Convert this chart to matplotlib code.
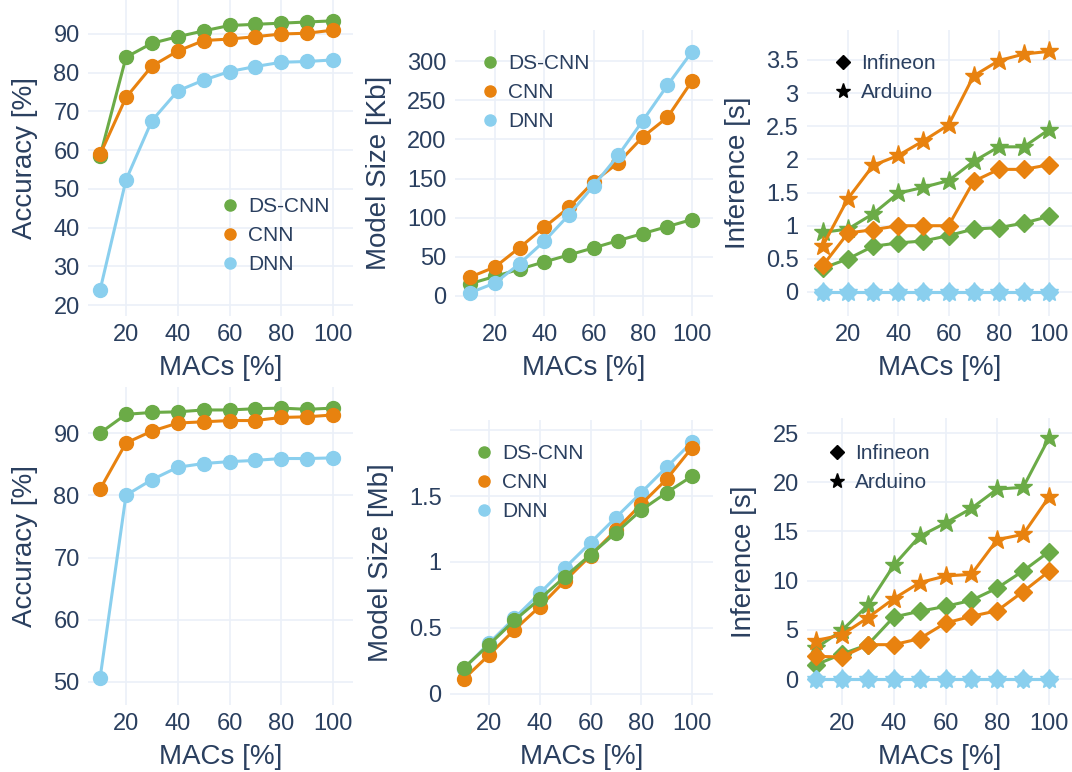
import matplotlib.pyplot as plt
from matplotlib.lines import Line2D
from matplotlib.ticker import FuncFormatter

plt.rcParams['font.family'] = ['Liberation Sans', 'DejaVu Sans']

# colours / styling (plotly_white look)
GREEN = '#6BAB47'
ORANGE = '#E8820F'
BLUE = '#8ACFEE'
TEXT = '#2a3f5f'
GRID = '#EBF0F8'

W, H = 1072, 772

# ---- data ----
macs = [10, 20, 30, 40, 50, 60, 70, 80, 90, 100]
models = ['DS-CNN', 'CNN', 'DNN']

# top row
acc_top_dscnn = [58.5, 84.0, 87.6, 89.3, 90.8, 92.2, 92.5, 92.8, 93.1, 93.4]
acc_top_cnn = [58.9, 73.6, 81.7, 85.6, 88.3, 88.7, 89.3, 90.0, 90.2, 91.0]
acc_top_dnn = [23.9, 52.3, 67.6, 75.3, 78.1, 80.3, 81.6, 82.7, 82.9, 83.3]

size_kb_dscnn = [15.8, 25.0, 34.3, 43.5, 52.4, 61.4, 70.7, 79.7, 88.6, 97.6]
size_kb_cnn = [24.3, 37.0, 61.8, 87.8, 113.0, 145.7, 170.0, 203.0, 228.0, 274.4]
size_kb_dnn = [4.3, 16.6, 41.3, 69.9, 103.5, 140.6, 179.4, 223.7, 268.9, 311.9]

inf_top_infineon_dscnn = [0.36, 0.50, 0.69, 0.74, 0.77, 0.85, 0.95, 0.97, 1.04, 1.14]
inf_top_infineon_cnn = [0.40, 0.89, 0.94, 1.00, 1.00, 1.00, 1.67, 1.85, 1.85, 1.92]
inf_top_infineon_dnn = [0, 0, 0, 0, 0, 0, 0, 0, 0, 0]
inf_top_arduino_dscnn = [0.90, 0.95, 1.18, 1.49, 1.58, 1.68, 1.97, 2.19, 2.19, 2.45]
inf_top_arduino_cnn = [0.70, 1.41, 1.91, 2.06, 2.28, 2.52, 3.26, 3.49, 3.59, 3.63]
inf_top_arduino_dnn = [0, 0, 0, 0, 0, 0, 0, 0, 0, 0]

# bottom row
acc_bot_dscnn = [90.0, 93.0, 93.3, 93.4, 93.7, 93.7, 93.9, 94.0, 93.8, 94.0]
acc_bot_cnn = [81.0, 88.4, 90.3, 91.6, 91.8, 92.0, 92.0, 92.5, 92.6, 92.9]
acc_bot_dnn = [50.7, 80.0, 82.5, 84.5, 85.1, 85.4, 85.6, 85.9, 85.9, 86.0]

size_mb_dscnn = [0.196, 0.373, 0.557, 0.72, 0.889, 1.055, 1.222, 1.393, 1.526, 1.65]
size_mb_cnn = [0.113, 0.295, 0.486, 0.662, 0.859, 1.048, 1.242, 1.438, 1.627, 1.866]
size_mb_dnn = [0.19, 0.385, 0.574, 0.763, 0.957, 1.146, 1.337, 1.526, 1.718, 1.909]

inf_bot_infineon_dscnn = [1.46, 2.54, 3.49, 6.3, 6.88, 7.38, 7.99, 9.25, 10.98, 12.94]
inf_bot_infineon_cnn = [2.3, 2.24, 3.49, 3.49, 4.1, 5.69, 6.37, 6.94, 8.88, 10.94]
inf_bot_infineon_dnn = [0, 0, 0, 0, 0, 0, 0, 0, 0, 0]
inf_bot_arduino_dscnn = [3.15, 4.95, 7.49, 11.55, 14.5, 15.85, 17.34, 19.3, 19.48, 24.5]
inf_bot_arduino_cnn = [3.9, 4.5, 6.23, 8.16, 9.79, 10.47, 10.64, 14.16, 14.7, 18.5]
inf_bot_arduino_dnn = [0, 0, 0, 0, 0, 0, 0, 0, 0, 0]

colors = [GREEN, ORANGE, BLUE]

fig = plt.figure(figsize=(W / 100, H / 100), dpi=100)


def make_ax(box, xref, yref, yticks, ylabel, yfmt=None):
    # box is (left, top, right, bottom) in pixels; refs calibrate the scales
    l, t, r, b = box
    ax = fig.add_axes([l / W, 1 - b / H, (r - l) / W, (b - t) / H])
    (px1, v1), (px2, v2) = xref
    sx = (v2 - v1) / (px2 - px1)
    ax.set_xlim(v1 + (l - px1) * sx, v1 + (r - px1) * sx)
    (py1, w1), (py2, w2) = yref
    sy = (w2 - w1) / (py2 - py1)
    ax.set_ylim(w1 + (b - py1) * sy, w1 + (t - py1) * sy)
    ax.set_xticks([20, 40, 60, 80, 100])
    ax.set_yticks(yticks)
    ax.yaxis.set_major_formatter(FuncFormatter(yfmt or (lambda v, p: '%g' % v)))
    for s in ax.spines.values():
        s.set_visible(False)
    ax.grid(True, color=GRID, lw=1.2)
    ax.set_axisbelow(True)
    ax.tick_params(length=0, labelsize=17, colors=TEXT, pad=6)
    ax.set_xlabel('MACs [%]', fontsize=20, color=TEXT, labelpad=6)
    ax.set_ylabel(ylabel, fontsize=20, color=TEXT, labelpad=11)
    return ax


def plot_models(ax, series, zorders=(3, 4, 5)):
    for vals, c, name, z in zip(series, colors, models, zorders):
        ax.plot(macs, vals, color=c, lw=2.2, marker='o', ms=10, label=name,
                zorder=z, clip_on=False)


def plot_inference(ax, inf_series, ard_series):
    for vals, c in zip(inf_series, colors):
        ax.plot(macs, vals, color=c, lw=2.2, marker='D', ms=9, zorder=4,
                clip_on=False)
    for vals, c in zip(ard_series, colors):
        ax.plot(macs, vals, color=c, lw=2.2, marker='*', ms=14, zorder=3,
                clip_on=False)


def model_legend(ax, x, y):
    handles = [Line2D([], [], ls='none', marker='o', ms=8, color=c) for c in colors]
    ax.legend(handles, models, loc='upper left', bbox_to_anchor=(x / W, 1 - y / H),
              bbox_transform=fig.transFigure, frameon=False, fontsize=15,
              labelcolor=TEXT, handlelength=0.8, handletextpad=0.45,
              labelspacing=0.48, borderpad=0, borderaxespad=0)


def device_legend(ax, x, y):
    handles = [Line2D([], [], ls='none', marker='D', ms=7.5, color='black'),
               Line2D([], [], ls='none', marker='*', ms=11, color='black')]
    ax.legend(handles, ['Infineon', 'Arduino'], loc='upper left',
              bbox_to_anchor=(x / W, 1 - y / H), bbox_transform=fig.transFigure,
              frameon=False, fontsize=15, labelcolor=TEXT, handlelength=0.8,
              handletextpad=0.45, labelspacing=0.48, borderpad=0, borderaxespad=0)


# top-left: accuracy
ax = make_ax((88, 0, 353, 316), ((126, 20), (333, 100)), ((34, 90), (305, 20)),
             [20, 30, 40, 50, 60, 70, 80, 90], 'Accuracy [%]')
plot_models(ax, [acc_top_dscnn, acc_top_cnn, acc_top_dnn])
model_legend(ax, 222, 197)

# top-middle: model size kb
ax = make_ax((455, 30, 713, 316), ((495, 20), (692, 100)), ((61, 300), (296, 0)),
             [0, 50, 100, 150, 200, 250, 300], 'Model Size [Kb]')
plot_models(ax, [size_kb_dscnn, size_kb_cnn, size_kb_dnn])
model_legend(ax, 482, 54)

# top-right: inference
ax = make_ax((807, 30, 1072, 316), ((848, 20), (1049, 100)), ((60, 3.5), (292, 0)),
             [0, 0.5, 1, 1.5, 2, 2.5, 3, 3.5], 'Inference [s]')
plot_inference(ax, [inf_top_infineon_dscnn, inf_top_infineon_cnn, inf_top_infineon_dnn],
               [inf_top_arduino_dscnn, inf_top_arduino_cnn, inf_top_arduino_dnn])
device_legend(ax, 835, 54)

# bottom-left: accuracy
ax = make_ax((88, 387, 353, 705), ((126, 20), (333, 100)), ((433, 90), (682, 50)),
             [50, 60, 70, 80, 90], 'Accuracy [%]')
plot_models(ax, [acc_bot_dscnn, acc_bot_cnn, acc_bot_dnn])

# bottom-middle: model size mb
ax = make_ax((450, 420, 713, 705), ((489, 20), (692, 100)), ((496, 1.5), (694, 0)),
             [0, 0.5, 1, 1.5, 2], 'Model Size [Mb]',
             yfmt=lambda v, p: '' if v > 1.9 else '%g' % v)
plot_models(ax, [size_mb_dscnn, size_mb_cnn, size_mb_dnn], zorders=(5, 4, 3))
model_legend(ax, 476, 444)

# bottom-right: inference
ax = make_ax((807, 418, 1072, 705), ((842, 20), (1049, 100)), ((433, 25), (679, 0)),
             [0, 5, 10, 15, 20, 25], 'Inference [s]')
plot_inference(ax, [inf_bot_infineon_dscnn, inf_bot_infineon_cnn, inf_bot_infineon_dnn],
               [inf_bot_arduino_dscnn, inf_bot_arduino_cnn, inf_bot_arduino_dnn])
device_legend(ax, 829, 444)

fig.savefig('out.png', dpi=100, facecolor='white')
